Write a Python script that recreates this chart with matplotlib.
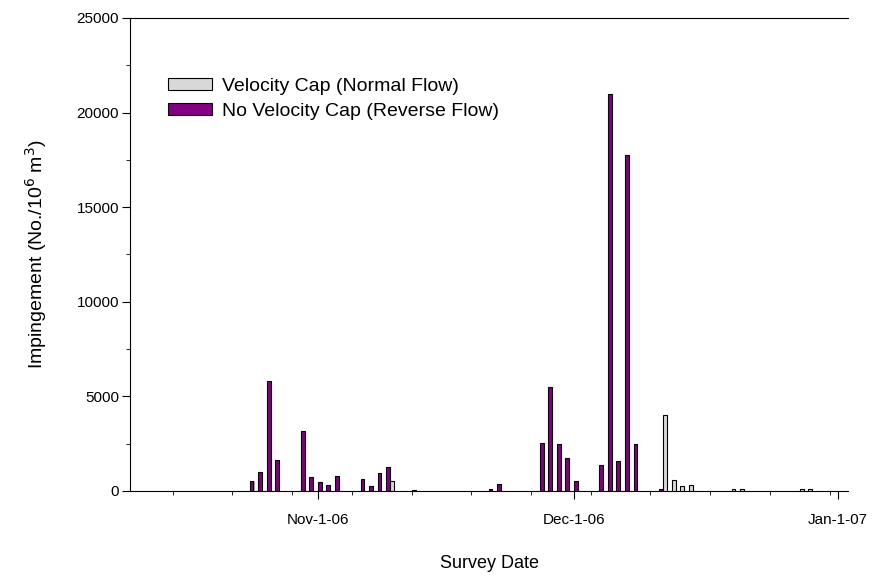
import matplotlib
matplotlib.use("Agg")
import matplotlib.pyplot as plt
import matplotlib.dates as mdates
import numpy as np
import datetime as dt

plt.rcParams['font.family'] = ['Liberation Sans', 'DejaVu Sans']

# No velocity cap (reverse flow) - survey dates and impingement
rev_dates = ['2006-10-24', '2006-10-25', '2006-10-26', '2006-10-27', '2006-10-30',
             '2006-10-31', '2006-11-01', '2006-11-02', '2006-11-03', '2006-11-06',
             '2006-11-07', '2006-11-08', '2006-11-09', '2006-11-12', '2006-11-21',
             '2006-11-22', '2006-11-27', '2006-11-28', '2006-11-29', '2006-11-30',
             '2006-12-01', '2006-12-04', '2006-12-05', '2006-12-06', '2006-12-07',
             '2006-12-08', '2006-12-11']
rev_vals = [520, 1000, 5800, 1620, 3170, 750, 470, 330, 800, 610,
            280, 940, 1270, 70, 120, 370, 2530, 5500, 2470, 1720,
            520, 1380, 21000, 1570, 17750, 2460, 100]

# Velocity cap (normal flow)
norm_dates = ['2006-11-09', '2006-12-11', '2006-12-12', '2006-12-13', '2006-12-14',
              '2006-12-19', '2006-12-20', '2006-12-27', '2006-12-28']
norm_vals = [530, 4000, 560, 290, 330, 110, 90, 130, 90]

rev_x = mdates.date2num([dt.datetime.fromisoformat(d) for d in rev_dates])
norm_x = mdates.date2num([dt.datetime.fromisoformat(d) for d in norm_dates])

fig = plt.figure(figsize=(8.75, 5.8), dpi=100)
ax = fig.add_axes([130/875, 1-491/580, (848-130)/875, (491-18)/580])

w = 0.45
# light drop shadow behind each bar
ax.bar(rev_x + 0.37, rev_vals, width=w, color='#a8a8a8', linewidth=0, zorder=2)
ax.bar(norm_x + 0.87, norm_vals, width=w, color='#a8a8a8', linewidth=0, zorder=2)
ax.bar(rev_x + 0.25, rev_vals, width=w, color='#800080', edgecolor='black',
       linewidth=0.8, label='No Velocity Cap (Reverse Flow)', zorder=3)
ax.bar(norm_x + 0.75, norm_vals, width=w, color='#d8d8d8', edgecolor='black',
       linewidth=0.8, label='Velocity Cap (Normal Flow)', zorder=3)

ax.set_ylim(0, 25000)
ax.set_xlim(mdates.date2num(dt.datetime(2006, 10, 10)),
            mdates.date2num(dt.datetime(2007, 1, 2, 4)))

ax.yaxis.set_major_locator(plt.MultipleLocator(5000))
ax.yaxis.set_minor_locator(plt.MultipleLocator(2500))
ax.xaxis.set_major_locator(mdates.MonthLocator(bymonth=[11, 12, 1]))
ax.xaxis.set_minor_locator(mdates.WeekdayLocator(byweekday=mdates.SU))
ax.xaxis.set_major_formatter(
    plt.FuncFormatter(lambda v, p: mdates.num2date(v).strftime('%b-') +
                      str(mdates.num2date(v).day) + mdates.num2date(v).strftime('-%y')))

ax.tick_params(axis='both', which='major', direction='out', length=6, labelsize=11)
ax.tick_params(axis='both', which='minor', direction='out', length=3)
ax.tick_params(axis='x', which='major', pad=10)
ax.tick_params(axis='y', which='major', pad=2)
ax.spines['right'].set_visible(False)

ax.set_xlabel('Survey Date', fontsize=13, labelpad=20)
ax.set_ylabel('Impingement (No./10$^6$ m$^3$)', fontsize=14, labelpad=20)

h, l = ax.get_legend_handles_labels()
ax.legend(h[::-1], l[::-1], loc='upper left', bbox_to_anchor=(0.028, 0.91),
          frameon=False, fontsize=14, handlelength=2.3, handleheight=0.6,
          labelspacing=0.4, handletextpad=0.5)

fig.savefig('out.png', dpi=100)
